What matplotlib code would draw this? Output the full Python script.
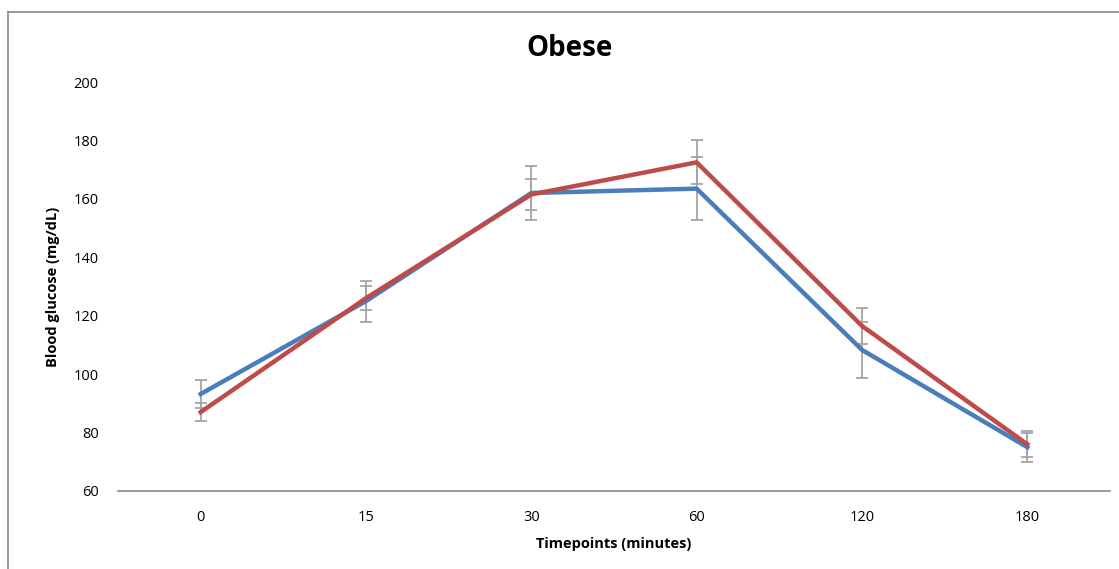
import numpy as np
import matplotlib
matplotlib.use('Agg')
import matplotlib.pyplot as plt
from matplotlib.lines import Line2D

plt.rcParams['font.family'] = ['Open Sans', 'DejaVu Sans']

# Data
timepoints = ['0', '15', '30', '60', '120', '180']
blue_vals = [93.2, 125.0, 162.0, 163.5, 108.3, 75.0]
blue_err = [4.9, 7.0, 9.3, 10.8, 9.5, 5.0]
red_vals = [87.0, 126.0, 161.5, 172.5, 116.5, 76.0]
red_err = [3.0, 4.0, 5.3, 7.5, 6.2, 4.5]

blue = '#4A7EBB'
red = '#BE4B48'
err_color = '#A5A5A5'

fig = plt.figure(figsize=(11.19, 5.69), dpi=100)
ax = fig.add_axes([118/1119, 78/569, 992/1119, 409/569])

x = np.arange(len(timepoints))
ax.errorbar(x, blue_vals, yerr=blue_err, fmt='none', ecolor=err_color,
            elinewidth=1.3, capsize=4, capthick=1.3, zorder=1)
ax.errorbar(x, red_vals, yerr=red_err, fmt='none', ecolor=err_color,
            elinewidth=1.3, capsize=4, capthick=1.3, zorder=1)
ax.plot(x, blue_vals, color=blue, linewidth=3.2, zorder=3)
ax.plot(x, red_vals, color=red, linewidth=3.2, zorder=4)

ax.set_xlim(-0.5, len(timepoints) - 0.5)
ax.set_ylim(60, 200)
ax.set_yticks(range(60, 201, 20))
ax.set_xticks(x)
ax.set_xticklabels(timepoints)
ax.tick_params(axis='both', length=0, labelsize=10.5, colors='#000000')
ax.tick_params(axis='y', pad=14)
ax.tick_params(axis='x', pad=14)

for s in ['top', 'right', 'left']:
    ax.spines[s].set_visible(False)
ax.spines['bottom'].set_color('#888888')
ax.spines['bottom'].set_linewidth(1.2)

ax.set_xlabel('Timepoints (minutes)', fontsize=10.5, fontweight='bold', labelpad=8)
ax.set_ylabel('Blood glucose (mg/dL)', fontsize=10.5, fontweight='bold', labelpad=10)

fig.text(570/1119, 1 - 49/569, 'Obese', ha='center', va='center',
         fontsize=20, fontweight='bold')

# outer chart frame (only left and top edges visible)
fig.add_artist(Line2D([8/1119, 8/1119], [0, 1 - 12/569], transform=fig.transFigure,
                      color='#888888', linewidth=1.2))
fig.add_artist(Line2D([8/1119, 1], [1 - 12/569, 1 - 12/569], transform=fig.transFigure,
                      color='#888888', linewidth=1.2))

fig.savefig('out.png', dpi=100)
